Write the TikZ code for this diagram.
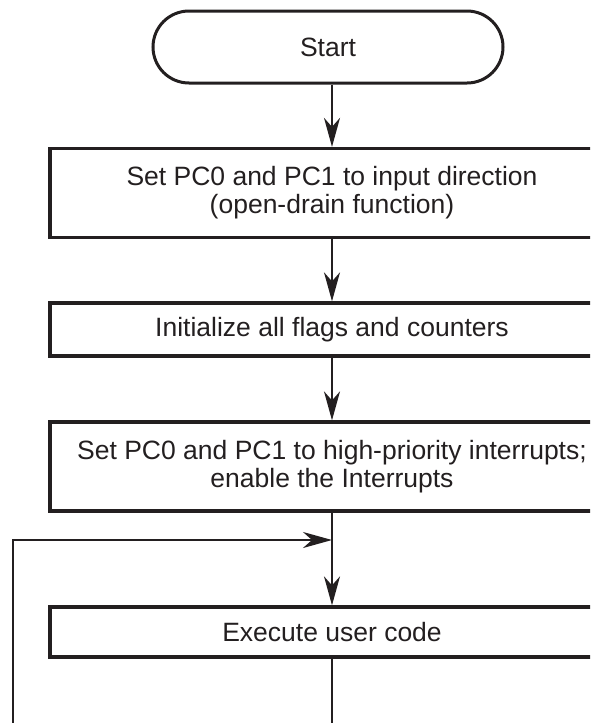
\documentclass[tikz,border=0pt]{standalone}
\usepackage{fontspec}
\setmainfont{Liberation Sans}
\usetikzlibrary{arrows.meta}
\definecolor{ink}{HTML}{231F20}
\begin{document}
\begin{tikzpicture}[x=1pt,y=-1pt,
  every node/.style={font=\fontsize{26.5}{28}\selectfont, text=ink, align=center},
  terminal/.style={draw=ink, line width=3pt, rounded corners=36pt,
    minimum width=350pt, minimum height=72pt, inner sep=0pt},
  procbox/.style={draw=ink, line width=3.3pt, minimum width=564pt, inner sep=0pt},
  flow/.style={draw=ink, line width=2pt,
    -{Stealth[length=29pt, width=16pt, inset=9pt]}},
  plain/.style={draw=ink, line width=2pt}]
  \useasboundingbox (0,0) rectangle (590,723);
  \clip (0,0) rectangle (590,723);

  % process steps
  \node[terminal] (start) at (328,47) {Start};
  \node[procbox, minimum height=89pt] (setdir) at (332,193)
    {Set PC0 and PC1 to input direction\\(open-drain function)};
  \node[procbox, minimum height=53pt] (init) at (332,329.5)
    {Initialize all flags and counters};
  \node[procbox, minimum height=89pt] (irq) at (332,466.5)
    {Set PC0 and PC1 to high-priority interrupts;\\enable the Interrupts};
  \node[procbox, minimum height=50pt] (user) at (332,632)
    {Execute user code};

  % loop points
  \coordinate (join) at (332,540);
  \coordinate (down) at (332,730);
  \coordinate (back) at (13,730);

  % connectors
  \draw[flow] (start.south -| setdir.north) -- (setdir);
  \draw[flow] (setdir) -- (init);
  \draw[flow] (init) -- (irq);
  \draw[flow] (irq) -- (user);
  \draw[plain] (user) -- (down);
  \draw[flow] (back) |- (join);
\end{tikzpicture}
\end{document}
